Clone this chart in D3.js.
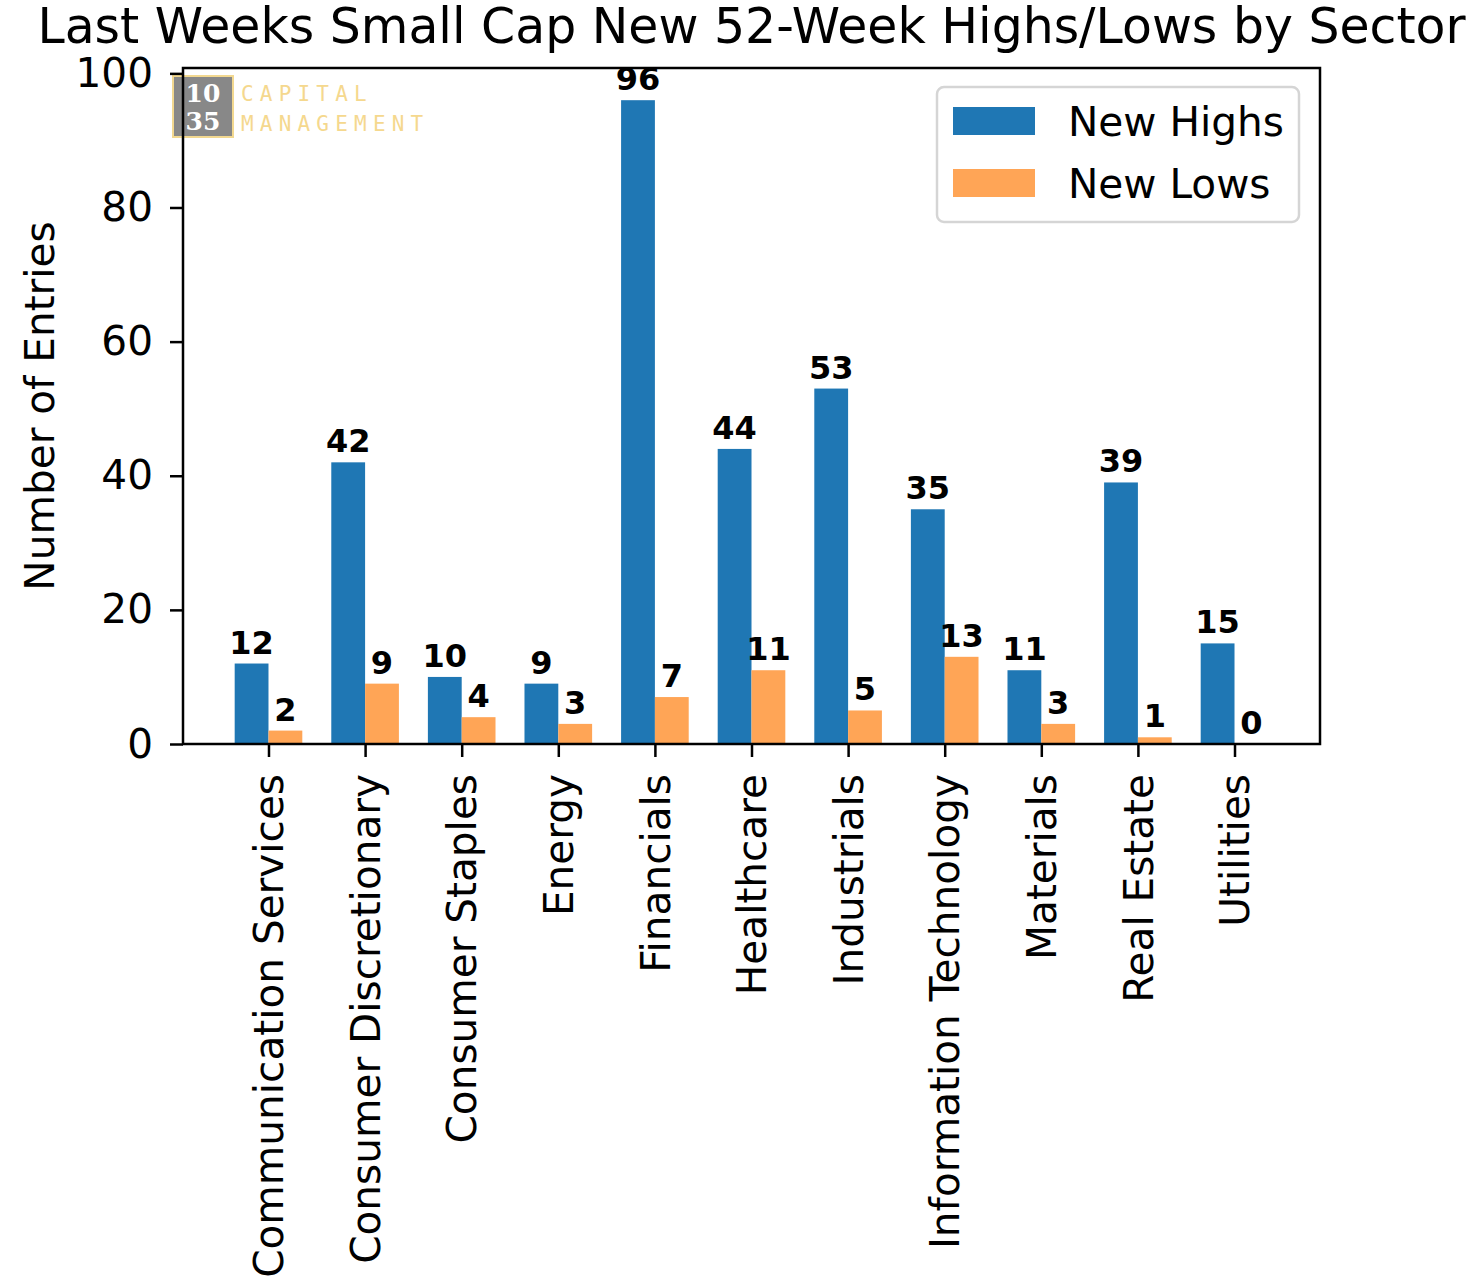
<!DOCTYPE html>
<html>
<head>
<meta charset="utf-8">
<script src="https://cdn.jsdelivr.net/npm/d3@7"></script>
<style>
  body { margin: 0; background: #fff; }
  text { font-family: "DejaVu Sans", sans-serif; }
</style>
</head>
<body>
<svg width="1475" height="1282"></svg>
<script>
var sectors = ["Communication Services", "Consumer Discretionary", "Consumer Staples", "Energy",
  "Financials", "Healthcare", "Industrials", "Information Technology", "Materials", "Real Estate", "Utilities"];
var newHighs = [12, 42, 10, 9, 96, 44, 53, 35, 11, 39, 15];
var newLows = [2, 9, 4, 3, 7, 11, 5, 13, 3, 1, 0];
var yTicks = [0, 20, 40, 60, 80, 100];

var svg = d3.select("svg"),
    margin = {top: 68, right: 155, bottom: 538, left: 183},
    width = +svg.attr("width"),
    height = +svg.attr("height");

var barW = 0.35;
var x = d3.scaleLinear()
    .domain([-0.885, sectors.length - 1 + 0.885])
    .range([margin.left, width - margin.right]);
var y = d3.scaleLinear()
    .domain([0, 100.8])
    .range([height - margin.bottom, margin.top]);

// logo
var logo = svg.append("g");
logo.append("rect")
    .attr("x", 173).attr("y", 76).attr("width", 60).attr("height", 61)
    .attr("fill", "#888").attr("stroke", "#f2d890").attr("stroke-width", 2);
logo.selectAll("text.num").data(["10", "35"]).enter().append("text")
    .attr("x", 203).attr("y", function(d, i) { return 102 + i * 28; })
    .attr("text-anchor", "middle")
    .attr("fill", "#fff").attr("font-weight", "bold")
    .style("font-family", "'DejaVu Serif', serif").style("font-size", "25px")
    .text(function(d) { return d; });
logo.selectAll("text.word").data(["CAPITAL", "MANAGEMENT"]).enter().append("text")
    .attr("x", 241).attr("y", function(d, i) { return 101 + i * 30; })
    .attr("fill", "#f5d88e")
    .style("font-family", "'DejaVu Sans Mono', monospace").style("font-size", "21px")
    .style("letter-spacing", "6.2px")
    .text(function(d) { return d; });

// bars
var bars = svg.append("g");
bars.selectAll("rect.high").data(newHighs).enter().append("rect")
    .attr("x", function(d, i) { return x(i - barW); })
    .attr("y", function(d) { return y(d); })
    .attr("width", function(d, i) { return x(i) - x(i - barW); })
    .attr("height", function(d) { return y(0) - y(d); })
    .attr("fill", "#1f77b4");
bars.selectAll("rect.low").data(newLows).enter().append("rect")
    .attr("x", function(d, i) { return x(i); })
    .attr("y", function(d) { return y(d); })
    .attr("width", function(d, i) { return x(i + barW) - x(i); })
    .attr("height", function(d) { return y(0) - y(d); })
    .attr("fill", "#ffa556");

// value labels
function labels(data, off) {
  svg.append("g").selectAll("text").data(data).enter().append("text")
    .attr("x", function(d, i) { return x(i + off); })
    .attr("y", function(d) { return y(d) - 10; })
    .attr("text-anchor", "middle")
    .attr("font-weight", "bold")
    .style("font-size", "32px")
    .text(function(d) { return d; });
}
labels(newHighs, -barW / 2);
labels(newLows, barW / 2);

// axes
var xAxis = svg.append("g")
    .attr("transform", "translate(0," + y(0) + ")")
    .call(d3.axisBottom(x).tickValues(d3.range(sectors.length))
      .tickFormat(function(i) { return sectors[i]; }).tickSize(13).tickSizeOuter(0));
xAxis.selectAll("text")
    .style("font-size", "40.6px")
    .attr("transform", "rotate(-90)")
    .attr("text-anchor", "end")
    .attr("x", -30).attr("y", 0).attr("dy", "0.35em");

var yAxis = svg.append("g")
    .attr("transform", "translate(" + margin.left + ",0)")
    .call(d3.axisLeft(y).tickValues(yTicks).tickSize(13).tickPadding(17).tickSizeOuter(0));
yAxis.selectAll("text").style("font-size", "40.6px");

svg.selectAll(".domain").remove();
svg.selectAll(".tick line").attr("stroke-width", 2.5).attr("stroke", "#000");
svg.selectAll(".tick text").attr("fill", "#000");

svg.append("rect")
    .attr("x", margin.left).attr("y", margin.top)
    .attr("width", width - margin.right - margin.left)
    .attr("height", y(0) - margin.top)
    .attr("fill", "none").attr("stroke", "#000").attr("stroke-width", 2.5);

// y label
svg.append("text")
    .attr("transform", "translate(54," + ((y(0) + margin.top) / 2) + ") rotate(-90)")
    .attr("text-anchor", "middle")
    .style("font-size", "40.6px")
    .text("Number of Entries");

// title
svg.append("text")
    .attr("x", (margin.left + width - margin.right) / 2)
    .attr("y", 43)
    .attr("text-anchor", "middle")
    .style("font-size", "48.9px")
    .text("Last Weeks Small Cap New 52-Week Highs/Lows by Sector");

// legend
var legend = svg.append("g");
legend.append("rect")
    .attr("x", 937).attr("y", 87).attr("width", 362).attr("height", 135)
    .attr("rx", 7).attr("fill", "#fff").attr("fill-opacity", 0.8)
    .attr("stroke", "#d5d5d5").attr("stroke-width", 2.5);
var items = [{name: "New Highs", color: "#1f77b4"}, {name: "New Lows", color: "#ffa556"}];
var li = legend.selectAll("g.item").data(items).enter().append("g")
    .attr("transform", function(d, i) { return "translate(0," + (i * 62) + ")"; });
li.append("rect")
    .attr("x", 953).attr("y", 107).attr("width", 82).attr("height", 28)
    .attr("fill", function(d) { return d.color; });
li.append("text")
    .attr("x", 1068).attr("y", 136)
    .style("font-size", "40.6px")
    .text(function(d) { return d.name; });
</script>
</body>
</html>
